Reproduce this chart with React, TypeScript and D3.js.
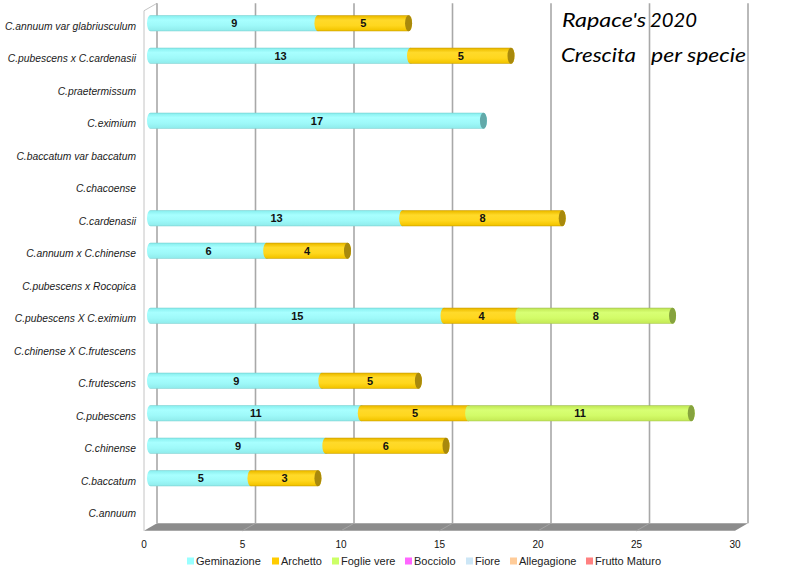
import React from "react";
import * as d3 from "d3";

const categories = [
  "C.annuum var glabriusculum",
  "C.pubescens x C.cardenasii",
  "C.praetermissum",
  "C.eximium",
  "C.baccatum var baccatum",
  "C.chacoense",
  "C.cardenasii",
  "C.annuum x C.chinense",
  "C.pubescens x Rocopica",
  "C.pubescens X C.eximium",
  "C.chinense X C.frutescens",
  "C.frutescens",
  "C.pubescens",
  "C.chinense",
  "C.baccatum",
  "C.annuum",
];

const geminazione = [8.5, 13.2, 0, 16.9, 0, 0, 12.8, 5.9, 0, 14.9, 0, 8.7, 10.7, 8.9, 5.1, 0];
const archetto = [4.6, 5.1, 0, 0, 0, 0, 8.1, 4.1, 0, 3.8, 0, 4.9, 5.45, 6.1, 3.4, 0];
const foglieVere = [0, 0, 0, 0, 0, 0, 0, 0, 0, 7.8, 0, 0, 11.3, 0, 0, 0];
const bocciolo = [0, 0, 0, 0, 0, 0, 0, 0, 0, 0, 0, 0, 0, 0, 0, 0];
const fiore = [0, 0, 0, 0, 0, 0, 0, 0, 0, 0, 0, 0, 0, 0, 0, 0];
const allegagione = [0, 0, 0, 0, 0, 0, 0, 0, 0, 0, 0, 0, 0, 0, 0, 0];
const fruttoMaturo = [0, 0, 0, 0, 0, 0, 0, 0, 0, 0, 0, 0, 0, 0, 0, 0];

const seriesNames = ["Geminazione", "Archetto", "Foglie vere", "Bocciolo", "Fiore", "Allegagione", "Frutto Maturo"];
const seriesValues = [geminazione, archetto, foglieVere, bocciolo, fiore, allegagione, fruttoMaturo];
const xTicks = [0, 5, 10, 15, 20, 25, 30];

const legendColors = ["#99FFFF", "#FFCC00", "#CCFF66", "#FF66FF", "#CCE6F6", "#FFCC99", "#FF8080"];
const capColors = ["#62a9a9", "#a8890c", "#86a33e", "#b040b0", "#90a8b8", "#c09060", "#c05050"];
const gradStops = [
  ["#72d0d0", "#8ef2f2", "#a8ffff", "#9ef9f9", "#92eeee", "#80d2d2"],
  ["#c89a00", "#efbf00", "#ffda2a", "#ffd71e", "#f4c600", "#caa000"],
  ["#9ebb50", "#c4ec5a", "#d8ff74", "#d2fb68", "#c6ec58", "#aaca50"],
  ["#c040c0", "#ee5cee", "#ff77ff", "#ff6cff", "#ee5cee", "#c040c0"],
  ["#a8c0d0", "#c0dcec", "#d4ecfa", "#cce6f6", "#c0dcec", "#a8c0d0"],
  ["#d0a070", "#f0c08c", "#ffd4a6", "#ffcc99", "#f0c08c", "#d0a070"],
  ["#c05050", "#f07070", "#ff9090", "#ff8080", "#f07070", "#c05050"],
];
const stopOffsets = ["0%", "8%", "30%", "65%", "92%", "100%"];

const legendX = [187, 272, 332, 405, 466, 510, 586];

export default function App() {
  const W = 800;
  const H = 577;
  const dx = 6.5;
  const dy = 3.75;
  const x = d3.scaleLinear().domain([0, 30]).range([150.5, 741.5]);
  const y = d3.scaleBand<string>().domain(categories).range([7, 527]).padding(0);
  const ry = 8;
  const rx = 3.5;
  const fmt = d3.format(".0f");

  const xFront = (v: number) => x(v) - dx;
  const xBack = (v: number) => x(v) + dx;
  const topMid = y.range()[0];
  const botMid = y.range()[1];

  const stacked = categories.map((c, i) => {
    let acc = 0;
    const segs: { s: number; x0: number; x1: number; v: number }[] = [];
    seriesValues.forEach((arr, s) => {
      const v = arr[i];
      if (v > 0) {
        segs.push({ s, x0: x(acc), x1: x(acc + v), v });
        acc += v;
      }
    });
    return { c, cy: (y(c) as number) + y.bandwidth() / 2, segs };
  });

  const segPath = (x0: number, x1: number, cy: number) =>
    `M${x0},${cy - ry}L${x1},${cy - ry}A${rx},${ry} 0 0 1 ${x1},${cy + ry}L${x0},${cy + ry}A${rx},${ry} 0 0 1 ${x0},${cy - ry}Z`;

  const font = "'Liberation Sans', Arial, sans-serif";
  const labelScale = 0.92;

  return (
    <svg width={W} height={H} style={{ position: "absolute", left: 0, top: 0, background: "#fff" }}>
      <defs>
        {gradStops.map((st, s) => (
          <linearGradient key={s} id={`g${s}`} x1="0" y1="0" x2="0" y2="1">
            {st.map((col, k) => (
              <stop key={k} offset={stopOffsets[k]} stopColor={col} />
            ))}
          </linearGradient>
        ))}
      </defs>

      {/* floor */}
      <polygon
        points={`${xFront(0)},${botMid + dy} ${xBack(0)},${botMid - dy} ${xBack(30)},${botMid - dy} ${xFront(30)},${botMid + dy}`}
        fill="#8c8c8c"
      />
      {xTicks.slice(1, -1).map((t) => (
        <line key={"fl" + t} x1={xBack(t)} y1={botMid - dy} x2={xFront(t)} y2={botMid + dy} stroke="#a4a4a4" strokeWidth={1} />
      ))}

      {/* left wall */}
      <line x1={xFront(0)} y1={topMid + dy} x2={xFront(0)} y2={botMid + dy} stroke="#c4c4c4" strokeWidth={1} />
      <line x1={xFront(0)} y1={topMid + dy} x2={xBack(0)} y2={topMid - dy} stroke="#c4c4c4" strokeWidth={1} />

      {/* gridlines (back wall) */}
      {xTicks.map((t) => (
        <line key={"gl" + t} x1={xBack(t)} y1={topMid - dy} x2={xBack(t)} y2={botMid - dy} stroke="#a8a8a8" strokeWidth={1.6} />
      ))}

      {/* bars */}
      {stacked.map((row, i) => (
        <g key={"r" + i}>
          {row.segs.map((sg, k) => (
            <path key={k} d={segPath(sg.x0, sg.x1, row.cy)} fill={`url(#g${sg.s})`} />
          ))}
          {row.segs.length > 0 && (
            <ellipse
              cx={row.segs[row.segs.length - 1].x1}
              cy={row.cy}
              rx={rx}
              ry={ry}
              fill={capColors[row.segs[row.segs.length - 1].s]}
            />
          )}
          {row.segs.map((sg, k) => (
            <text
              key={"t" + k}
              x={(sg.x0 + sg.x1) / 2}
              y={row.cy}
              dy="0.35em"
              textAnchor="middle"
              fontFamily={font}
              fontWeight="bold"
              fontSize={11}
              fill="#111"
            >
              {fmt(sg.v)}
            </text>
          ))}
        </g>
      ))}

      {/* category labels */}
      <g transform={`scale(${labelScale},1)`}>
        {categories.map((c) => (
          <text
            key={c}
            x={136 / labelScale}
            y={(y(c) as number) + y.bandwidth() / 2 + dy - 1}
            dy="0.35em"
            textAnchor="end"
            fontFamily={font}
            fontStyle="italic"
            fontSize={11.2}
            fill="#1a1a1a"
          >
            {c}
          </text>
        ))}
      </g>

      {/* x tick labels */}
      {xTicks.map((t) => (
        <text key={"xt" + t} x={xFront(t)} y={548} textAnchor="middle" fontFamily={font} fontSize={10} fill="#111">
          {t}
        </text>
      ))}

      {/* legend */}
      {seriesNames.map((n, s) => (
        <g key={n}>
          <rect x={legendX[s]} y={557.5} width={7} height={7} fill={legendColors[s]} />
          <text x={legendX[s] + 9} y={565} fontFamily={font} fontSize={11} fill="#222">
            {n}
          </text>
        </g>
      ))}

      {/* title */}
      <g fontFamily="Lato, 'Open Sans', sans-serif" fontStyle="italic" fontSize={19.5} fill="#000">
        <text x={562} y={27} textLength={84} lengthAdjust="spacingAndGlyphs">Rapace's</text>
        <text x={650} y={27} textLength={47} lengthAdjust="spacingAndGlyphs">2020</text>
        <text x={561} y={62} textLength={75} lengthAdjust="spacingAndGlyphs">Crescita</text>
        <text x={651} y={62} textLength={95} lengthAdjust="spacingAndGlyphs">per specie</text>
      </g>
    </svg>
  );
}
